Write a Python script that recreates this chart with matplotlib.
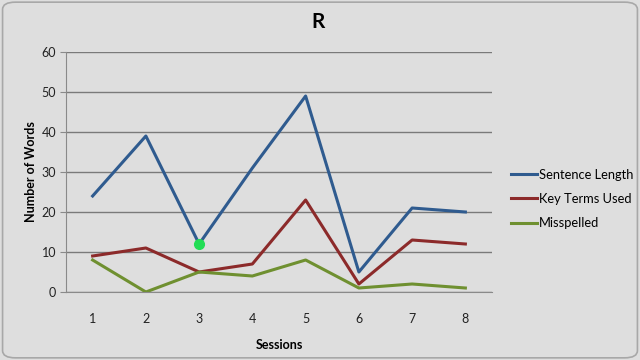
import matplotlib.pyplot as plt
from matplotlib.patches import FancyBboxPatch

# data
sessions = [1, 2, 3, 4, 5, 6, 7, 8]
sentence_length = [24, 39, 12, 31, 49, 5, 21, 20]
key_terms_used = [9, 11, 5, 7, 23, 2, 13, 12]
misspelled = [8, 0, 5, 4, 8, 1, 2, 1]
marker_point = (3, 12)

plt.rcParams['font.family'] = ['Lato', 'DejaVu Sans']

bg = '#dedede'
fig = plt.figure(figsize=(6.4, 3.6), dpi=100, facecolor=bg)

# rounded chart-area border
border = FancyBboxPatch((0.004, 0.006), 0.992, 0.988, boxstyle="round,pad=0,rounding_size=0.02",
                        transform=fig.transFigure, facecolor='none', edgecolor='#a8a8a8',
                        linewidth=1.2, zorder=-1)
fig.patches.append(border)

ax = fig.add_axes([66 / 640, 1 - 292 / 360, 426 / 640, 240 / 360])
ax.set_facecolor(bg)

ax.plot(sessions, sentence_length, color='#2f5b8f', linewidth=2.2, label='Sentence Length')
ax.plot(sessions, key_terms_used, color='#8c2a2a', linewidth=2.2, label='Key Terms Used')
ax.plot(sessions, misspelled, color='#6f9030', linewidth=2.2, label='Misspelled')
ax.plot(*marker_point, 'o', color='#22dd55', markersize=7, zorder=5)

ax.set_xlim(0.5, 8.5)
ax.set_ylim(0, 60)
ax.set_yticks(range(0, 61, 10))
ax.set_xticks(sessions)
ax.grid(axis='y', color='#7a7a7a', linewidth=1)
ax.set_axisbelow(True)
for s in ['top', 'right']:
    ax.spines[s].set_visible(False)
ax.spines['left'].set_color('#8a8a8a')
ax.spines['bottom'].set_color('#8a8a8a')
ax.tick_params(axis='y', length=4, color='#8a8a8a', labelsize=9, labelcolor='#222222', pad=3)
ax.tick_params(axis='x', length=0, labelsize=9, labelcolor='#222222', pad=15)

ax.set_xlabel('Sessions', fontsize=9, fontweight='bold', labelpad=10)
ax.set_ylabel('Number of Words', fontsize=9, fontweight='bold', labelpad=3)
fig.text(318 / 640, 1 - 22 / 360, 'R', fontsize=15, fontweight='bold', ha='center', va='center')

fig.legend(loc='center left', bbox_to_anchor=(511 / 640, 1 - 199 / 360), frameon=False,
           fontsize=9.3, handlelength=2.0, handletextpad=0.15, labelspacing=0.95,
           borderpad=0, borderaxespad=0)

plt.savefig('out.png', dpi=100, facecolor=bg)
